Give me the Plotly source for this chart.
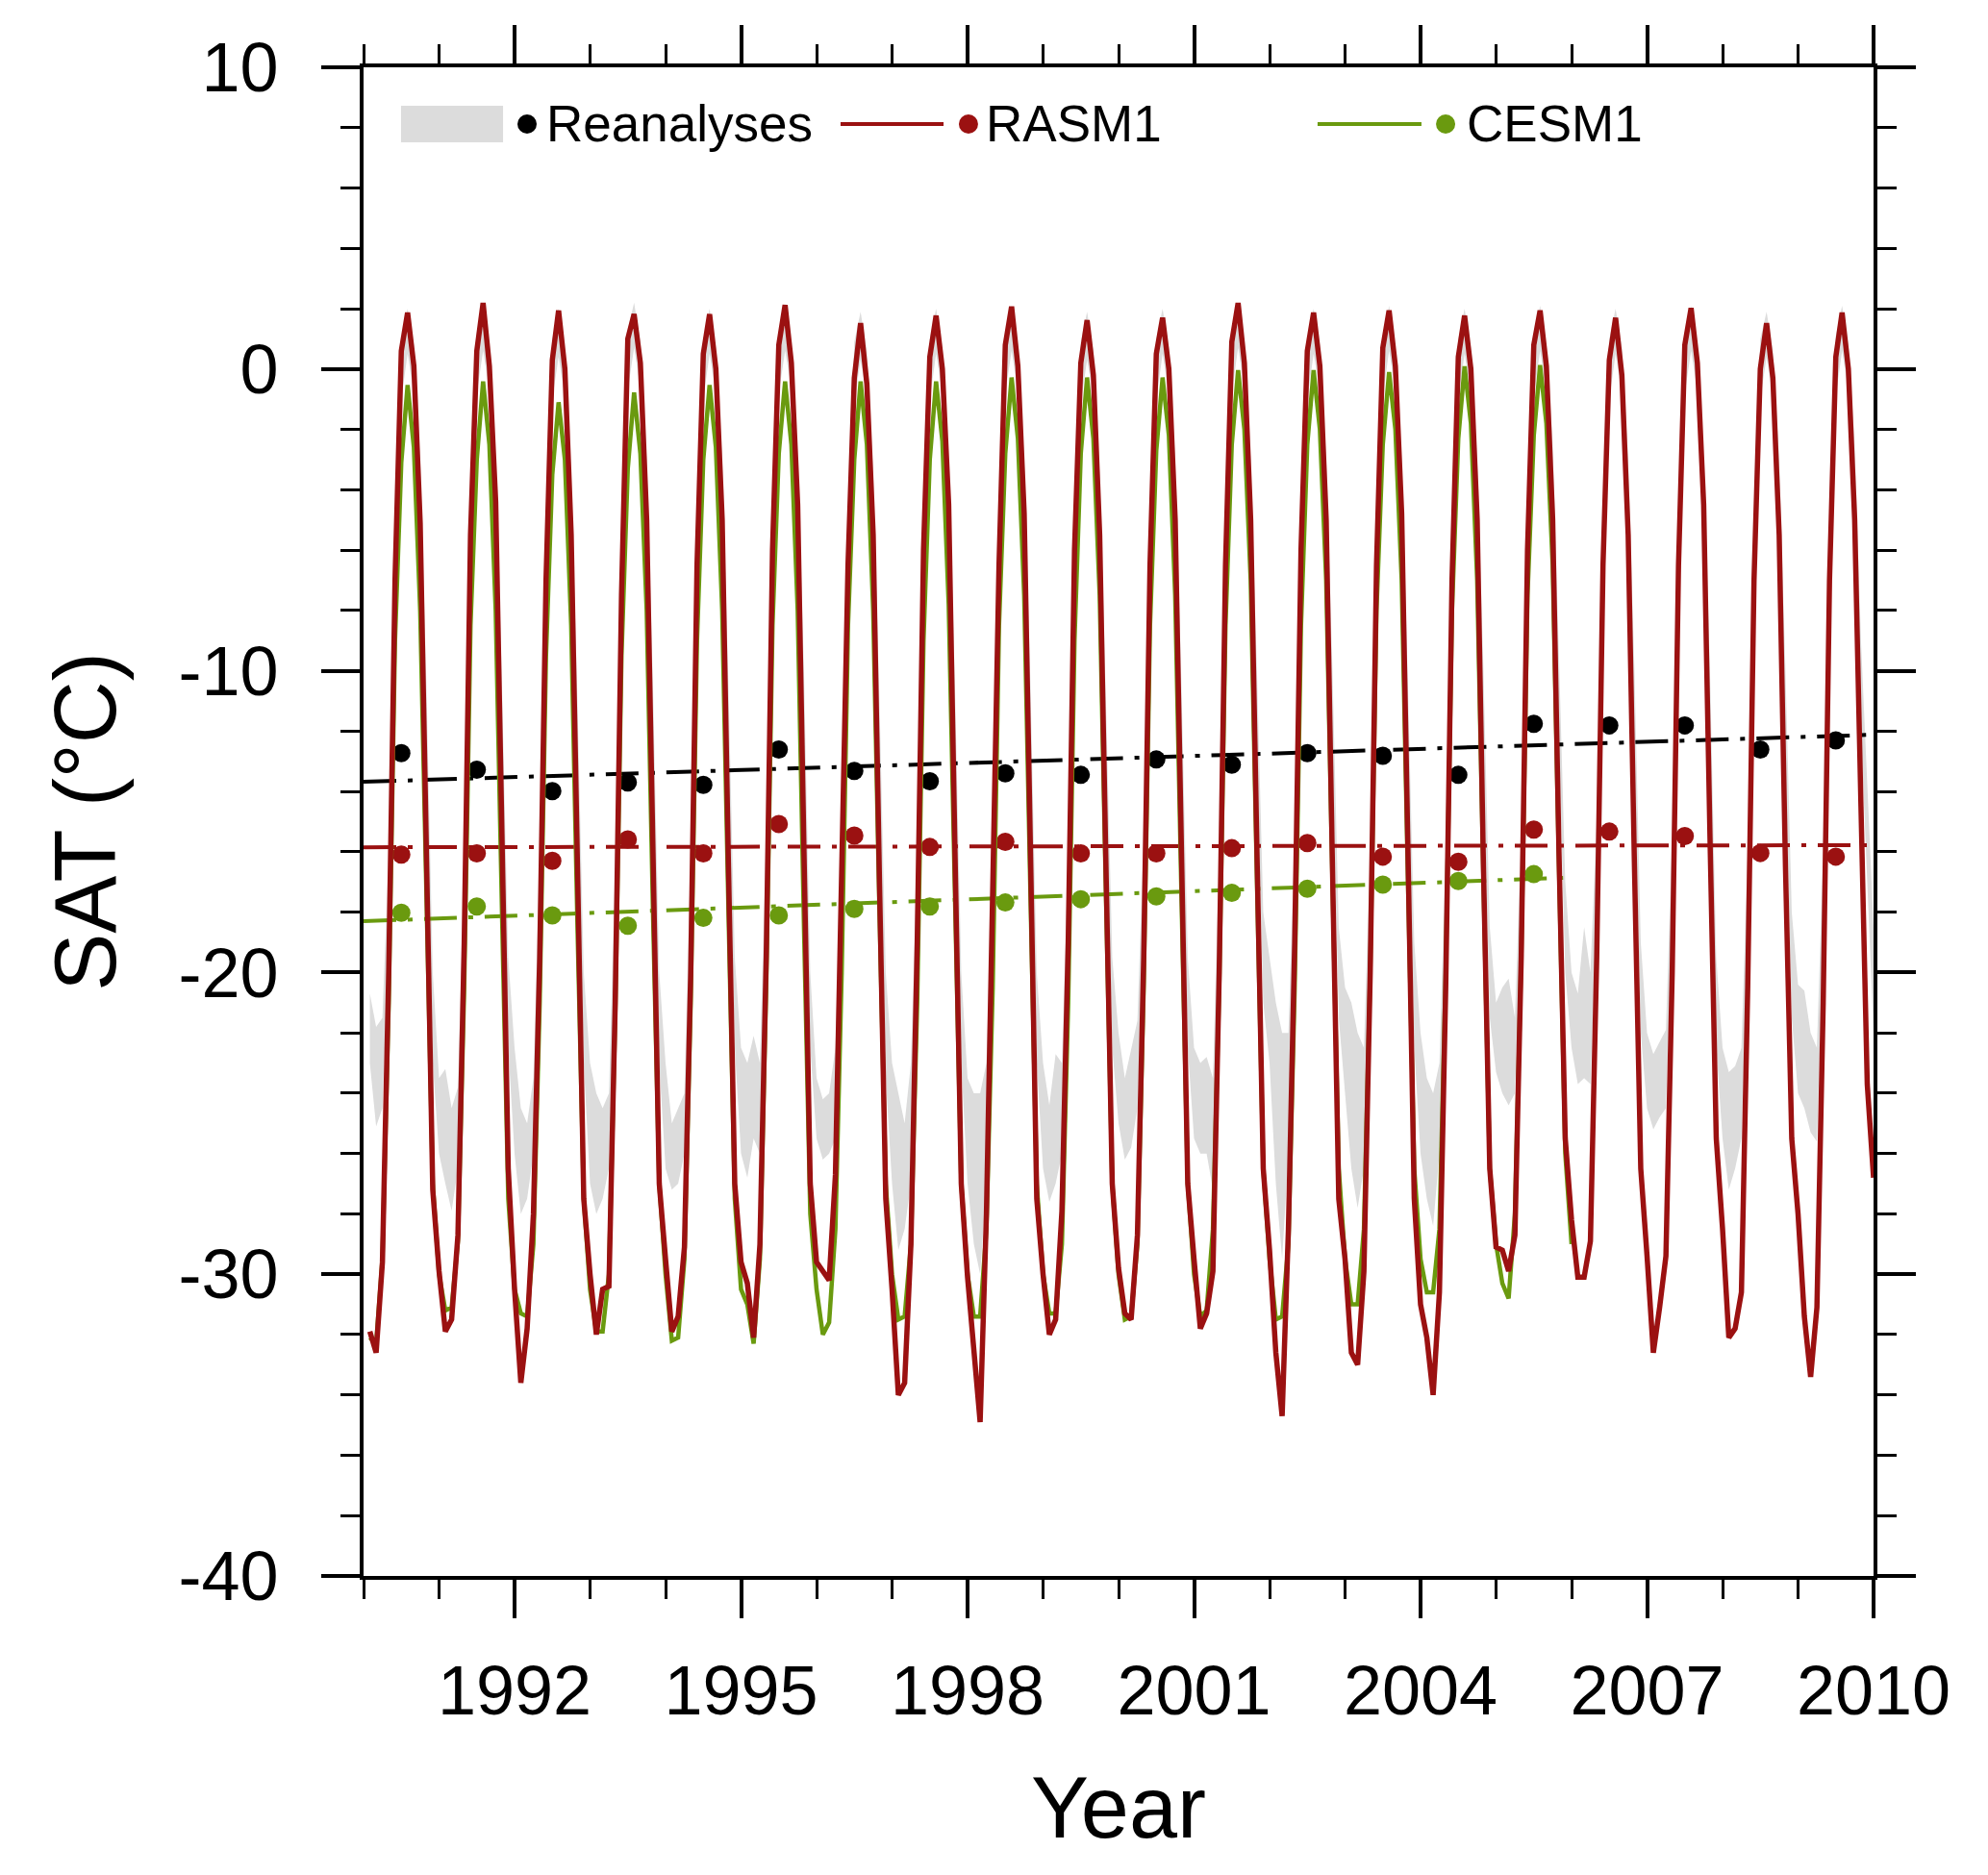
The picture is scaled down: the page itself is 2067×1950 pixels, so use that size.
import numpy as np
import plotly.graph_objects as go

# monthly SAT (deg C), one row per year, Jan..Dec
years = list(range(1990, 2010))

rasm1 = [
    [-31.9, -32.6, -29.6, -20.0, -7.0, 0.6, 1.87, 0.1, -5.1, -16.0, -27.2, -29.9],
    [-31.9, -31.5, -28.7, -19.0, -5.5, 0.6, 2.19, 0.1, -4.4, -15.5, -26.5, -30.5],
    [-33.6, -31.8, -28.0, -19.5, -7.0, 0.3, 1.94, 0.0, -5.5, -16.5, -27.5, -30.0],
    [-32.0, -30.5, -30.4, -21.0, -7.5, 1.0, 1.82, 0.2, -5.0, -16.0, -27.0, -29.5],
    [-31.9, -31.4, -29.1, -20.0, -6.5, 0.5, 1.82, 0.0, -5.0, -16.5, -27.0, -29.6],
    [-30.3, -32.1, -29.0, -19.5, -6.0, 0.8, 2.12, 0.2, -4.5, -16.0, -27.0, -29.6],
    [-29.9, -30.2, -26.7, -17.5, -6.5, -0.3, 1.52, -0.5, -5.5, -17.0, -27.5, -30.5],
    [-34.0, -33.6, -29.0, -19.0, -6.0, 0.4, 1.77, 0.0, -4.5, -16.0, -27.0, -30.1],
    [-32.5, -34.9, -28.0, -18.0, -6.5, 0.8, 2.07, 0.1, -4.8, -16.0, -27.5, -30.0],
    [-32.0, -31.5, -27.9, -19.0, -6.0, 0.2, 1.62, -0.2, -5.5, -16.5, -27.0, -29.8],
    [-31.3, -31.5, -28.7, -19.5, -6.5, 0.5, 1.70, 0.0, -5.0, -16.0, -27.0, -29.5],
    [-31.8, -31.3, -29.9, -20.0, -6.5, 0.9, 2.19, 0.2, -5.0, -16.0, -26.5, -29.2],
    [-32.6, -34.7, -28.5, -19.0, -6.0, 0.6, 1.87, 0.1, -5.0, -16.5, -27.5, -29.5],
    [-32.6, -33.0, -29.9, -20.0, -6.5, 0.7, 1.94, 0.1, -4.8, -16.0, -27.5, -31.0],
    [-32.1, -34.0, -30.6, -20.5, -7.0, 0.4, 1.77, 0.0, -5.0, -16.5, -26.5, -29.1],
    [-29.2, -29.9, -28.7, -19.5, -6.0, 0.8, 1.94, 0.1, -5.0, -16.0, -25.5, -28.2],
    [-30.1, -30.1, -28.9, -19.5, -6.5, 0.3, 1.70, -0.2, -5.5, -16.5, -26.5, -29.4],
    [-32.6, -31.1, -29.4, -20.0, -6.5, 0.8, 2.02, 0.2, -4.5, -15.5, -25.5, -28.5],
    [-32.1, -31.8, -30.6, -20.5, -7.0, 0.0, 1.52, -0.3, -5.5, -16.5, -25.5, -28.0],
    [-31.4, -33.4, -31.1, -21.0, -7.0, 0.4, 1.87, 0.0, -5.0, -14.5, -23.7, -26.8],
]

# CESM1 stops after 2005
cesm1 = [
    [-32.1, -32.3, -29.5, -21.0, -9.0, -3.1, -0.53, -2.6, -8.0, -18.0, -27.0, -30.0],
    [-31.2, -31.1, -28.9, -20.5, -8.5, -3.0, -0.41, -2.5, -8.0, -18.0, -27.5, -30.5],
    [-31.3, -31.4, -29.0, -21.0, -9.5, -3.5, -1.10, -3.0, -8.5, -18.5, -27.5, -30.5],
    [-31.9, -31.9, -30.0, -21.5, -9.5, -3.3, -0.78, -2.8, -8.0, -18.0, -27.0, -30.0],
    [-32.2, -32.1, -29.5, -21.0, -9.0, -3.0, -0.53, -2.6, -8.0, -18.0, -27.5, -30.5],
    [-31.0, -32.3, -29.5, -20.5, -8.5, -2.8, -0.41, -2.5, -8.0, -18.5, -28.0, -30.5],
    [-32.0, -31.6, -28.5, -20.0, -8.5, -3.0, -0.41, -2.5, -8.0, -18.0, -27.0, -30.0],
    [-31.5, -31.4, -29.0, -21.0, -9.0, -3.0, -0.41, -2.4, -7.8, -17.5, -27.0, -30.0],
    [-31.4, -31.4, -28.5, -20.5, -8.5, -2.8, -0.28, -2.3, -7.5, -17.5, -27.0, -30.0],
    [-31.3, -31.3, -29.0, -21.0, -9.0, -2.8, -0.28, -2.3, -7.5, -17.5, -27.0, -30.0],
    [-31.5, -31.4, -29.0, -20.5, -8.5, -2.7, -0.28, -2.2, -7.5, -17.5, -27.0, -30.0],
    [-31.4, -31.2, -28.5, -20.5, -8.5, -2.5, -0.04, -2.0, -7.0, -17.0, -26.5, -29.5],
    [-31.5, -31.4, -29.0, -20.5, -8.5, -2.5, -0.04, -2.0, -7.0, -17.0, -26.5, -29.5],
    [-31.0, -31.0, -28.5, -20.0, -8.0, -2.5, -0.10, -2.0, -7.0, -17.0, -26.5, -29.5],
    [-30.6, -30.6, -28.5, -20.0, -8.0, -2.3, 0.09, -1.8, -7.0, -17.0, -26.5, -29.0],
    [-30.3, -30.8, -28.0, -19.5, -7.5, -2.2, 0.13, -1.8, -6.5, -16.5, -26.0, -29.0],
]

# reanalyses spread: upper and lower edge of the grey band
rean_hi = [
    [-20.7, -21.8, -21.5, -16.0, -5.0, 1.0, 2.0, 0.8, -3.0, -10.5, -20.0, -23.5],
    [-23.2, -24.5, -23.8, -16.5, -5.0, 1.2, 2.1, 0.8, -3.0, -10.5, -19.5, -22.5],
    [-24.5, -25.0, -23.5, -16.0, -5.5, 1.0, 2.0, 0.6, -3.5, -11.0, -20.0, -23.0],
    [-24.0, -24.5, -24.0, -16.5, -5.0, 1.3, 2.2, 0.9, -3.0, -10.5, -20.0, -23.0],
    [-25.0, -24.5, -24.0, -16.0, -5.0, 1.0, 2.0, 0.7, -3.0, -10.5, -19.5, -22.5],
    [-23.0, -22.1, -23.0, -15.5, -4.5, 1.2, 2.1, 0.9, -3.0, -10.0, -20.0, -23.5],
    [-24.2, -24.0, -22.5, -15.5, -5.0, 0.9, 1.9, 0.6, -3.5, -11.0, -20.0, -23.0],
    [-24.0, -25.0, -23.0, -16.0, -5.0, 1.0, 2.0, 0.7, -3.0, -10.5, -20.0, -23.5],
    [-24.0, -24.0, -23.0, -16.0, -5.0, 1.2, 2.1, 0.8, -3.0, -10.5, -20.0, -23.0],
    [-24.4, -22.7, -23.0, -16.0, -5.0, 0.9, 1.9, 0.6, -3.5, -11.0, -19.5, -22.0],
    [-23.5, -22.5, -21.6, -15.5, -4.5, 1.0, 2.0, 0.7, -3.0, -10.5, -19.5, -22.5],
    [-23.0, -22.8, -23.5, -16.0, -5.0, 1.2, 2.2, 0.9, -3.0, -10.0, -18.0, -19.5],
    [-21.0, -22.0, -22.0, -15.5, -4.5, 1.0, 2.0, 0.8, -3.0, -10.0, -18.5, -20.5],
    [-21.0, -22.0, -22.5, -16.0, -5.0, 1.1, 2.1, 0.8, -3.0, -10.5, -19.0, -22.0],
    [-23.5, -24.0, -23.0, -16.0, -5.0, 1.0, 2.0, 0.7, -3.0, -10.0, -18.5, -21.0],
    [-20.5, -20.2, -21.5, -15.5, -4.5, 1.1, 2.1, 0.8, -2.5, -9.5, -17.0, -20.0],
    [-20.7, -18.5, -20.0, -15.0, -4.5, 1.0, 2.0, 0.7, -3.0, -10.0, -19.0, -22.0],
    [-22.7, -22.3, -21.9, -15.5, -4.5, 1.2, 2.1, 0.8, -3.0, -10.0, -19.5, -22.5],
    [-23.3, -23.1, -22.5, -16.0, -5.0, 1.0, 1.9, 0.6, -3.0, -10.0, -18.0, -20.4],
    [-20.6, -22.0, -22.5, -16.0, -5.0, 1.1, 2.1, 0.8, -2.5, -9.0, -13.5, -18.5],
]
rean_lo = [
    [-23.0, -25.1, -24.5, -19.0, -8.0, -1.0, 0.5, -0.8, -5.5, -13.5, -23.0, -26.0],
    [-27.0, -27.9, -26.5, -19.5, -8.0, -0.8, 0.6, -0.7, -5.5, -13.5, -22.5, -26.0],
    [-28.0, -27.5, -26.0, -19.0, -8.5, -1.0, 0.4, -0.9, -6.0, -14.0, -23.0, -27.0],
    [-28.0, -27.5, -26.5, -19.5, -8.0, -0.7, 0.7, -0.6, -5.5, -13.5, -23.0, -26.5],
    [-27.2, -27.0, -26.0, -19.0, -8.0, -1.0, 0.5, -0.8, -5.5, -13.5, -22.5, -26.0],
    [-26.8, -25.5, -26.0, -18.5, -7.5, -0.8, 0.6, -0.6, -5.5, -13.0, -22.5, -25.5],
    [-26.2, -26.0, -25.5, -18.5, -8.0, -1.1, 0.3, -0.9, -6.0, -14.0, -23.5, -27.0],
    [-29.2, -28.5, -27.0, -19.0, -8.0, -1.0, 0.5, -0.8, -5.5, -13.5, -23.0, -27.0],
    [-29.0, -30.0, -27.0, -19.0, -8.0, -0.8, 0.6, -0.7, -5.5, -13.5, -23.0, -26.5],
    [-27.6, -27.0, -26.0, -19.0, -8.0, -1.1, 0.3, -0.9, -6.0, -14.0, -22.5, -25.0],
    [-26.2, -25.8, -24.5, -18.5, -7.5, -1.0, 0.5, -0.8, -5.5, -13.5, -22.5, -25.5],
    [-26.0, -26.0, -27.2, -19.0, -8.0, -0.8, 0.7, -0.6, -5.5, -13.0, -21.0, -23.0],
    [-27.0, -29.5, -26.0, -18.5, -7.5, -1.0, 0.5, -0.7, -5.5, -13.0, -21.5, -24.0],
    [-26.5, -27.8, -26.5, -19.0, -8.0, -0.9, 0.6, -0.7, -5.5, -13.5, -22.5, -26.0],
    [-27.5, -28.4, -26.0, -19.0, -8.0, -1.0, 0.5, -0.8, -5.5, -13.0, -21.5, -23.3],
    [-24.0, -24.4, -24.0, -18.5, -7.5, -0.9, 0.6, -0.7, -5.0, -12.5, -20.0, -22.5],
    [-23.7, -23.5, -23.7, -18.0, -7.5, -1.0, 0.5, -0.8, -5.5, -13.0, -22.0, -24.5],
    [-25.2, -24.8, -24.5, -18.5, -7.5, -0.8, 0.6, -0.7, -5.5, -13.0, -22.5, -25.5],
    [-27.2, -26.5, -25.5, -19.0, -8.0, -1.0, 0.4, -0.9, -5.5, -13.0, -21.5, -24.0],
    [-24.5, -25.3, -25.6, -19.0, -8.0, -0.9, 0.6, -0.7, -5.0, -12.0, -17.0, -22.0],
]

# annual means (dots)
rean_annual = [-12.73, -13.28, -13.99, -13.70, -13.78, -12.61, -13.32, -13.66, -13.40, -13.45,
               -12.94, -13.11, -12.73, -12.82, -13.45, -11.76, -11.81, -11.81, -12.61, -12.31]
rasm1_annual = [-16.09, -16.05, -16.30, -15.59, -16.05, -15.08, -15.46, -15.84, -15.67, -16.05,
                -16.05, -15.88, -15.71, -16.16, -16.33, -15.26, -15.33, -15.48, -16.04, -16.16]
cesm1_annual = [-18.02, -17.81, -18.11, -18.45, -18.19, -18.11, -17.89, -17.81, -17.68, -17.57,
                -17.48, -17.36, -17.22, -17.09, -16.97, -16.74]

# linear trends: (start year, start value, end year, end value)
rean_trend = [1990.0, -13.68, 2010.0, -12.12]
rasm1_trend = [1990.0, -15.85, 2010.0, -15.78]
cesm1_trend = [1990.0, -18.30, 2005.9, -16.86]

y_ticks = [-40, -30, -20, -10, 0, 10]
x_ticks = [1992, 1995, 1998, 2001, 2004, 2007, 2010]

RED = "#9b1111"
GREEN = "#6a9a0f"
GREY = "#dcdcdc"
FONT = "Liberation Sans"


def month_axis(n_years):
    # time coordinate: year + month/12
    return [1990 + i + (m + 1) / 12.0 for i in range(n_years) for m in range(12)]


t_rasm = month_axis(len(rasm1))
t_cesm = month_axis(len(cesm1))
rasm_flat = np.array(rasm1).ravel()
cesm_flat = np.array(cesm1).ravel()
hi_flat = np.array(rean_hi).ravel()
lo_flat = np.array(rean_lo).ravel()

fig = go.Figure()

# reanalyses spread band
fig.add_trace(go.Scatter(x=t_rasm, y=lo_flat, mode="lines", line=dict(width=0, color=GREY),
                         showlegend=False, hoverinfo="skip"))
fig.add_trace(go.Scatter(x=t_rasm, y=hi_flat, mode="lines", line=dict(width=0, color=GREY),
                         fill="tonexty", fillcolor=GREY, showlegend=False))

# trend lines
dash = "34px,12px,5px,12px"
for tr, col in [(rean_trend, "black"), (rasm1_trend, RED), (cesm1_trend, GREEN)]:
    fig.add_trace(go.Scatter(x=[tr[0], tr[2]], y=[tr[1], tr[3]], mode="lines",
                             line=dict(color=col, width=4, dash=dash), showlegend=False))

# annual means
x_ann = [y + 0.5 for y in years]
fig.add_trace(go.Scatter(x=x_ann, y=rean_annual, mode="markers",
                         marker=dict(color="black", size=19), showlegend=False))
fig.add_trace(go.Scatter(x=x_ann, y=rasm1_annual, mode="markers",
                         marker=dict(color=RED, size=19), showlegend=False))
fig.add_trace(go.Scatter(x=x_ann[:len(cesm1_annual)], y=cesm1_annual, mode="markers",
                         marker=dict(color=GREEN, size=19), showlegend=False))

# monthly model series
fig.add_trace(go.Scatter(x=t_cesm, y=cesm_flat, mode="lines",
                         line=dict(color=GREEN, width=4.5), showlegend=False))
fig.add_trace(go.Scatter(x=t_rasm, y=rasm_flat, mode="lines",
                         line=dict(color=RED, width=5.5), showlegend=False))

# hand-made legend along the top of the panel
leg_y = 0.9624
shapes = [
    dict(type="rect", xref="paper", yref="paper", x0=0.0248, x1=0.0924, y0=0.9503, y1=0.9745,
         fillcolor=GREY, line=dict(width=0)),
    dict(type="line", xref="paper", yref="paper", x0=0.3159, x1=0.3841, y0=leg_y, y1=leg_y,
         line=dict(color=RED, width=4)),
    dict(type="line", xref="paper", yref="paper", x0=0.6318, x1=0.7006, y0=leg_y, y1=leg_y,
         line=dict(color=GREEN, width=4)),
]
for xc, col in [(0.1083, "black"), (0.4006, RED), (0.7166, GREEN)]:
    shapes.append(dict(type="circle", xref="paper", yref="paper", xsizemode="pixel",
                       ysizemode="pixel", xanchor=xc, yanchor=leg_y, x0=-10, x1=10, y0=-10, y1=10,
                       fillcolor=col, line=dict(width=0)))

annotations = []
for xl, txt in [(0.1200, "Reanalyses"), (0.4110, "RASM1"), (0.7290, "CESM1")]:
    annotations.append(dict(x=xl, y=leg_y, xref="paper", yref="paper", text=txt,
                            showarrow=False, xanchor="left", yanchor="middle",
                            font=dict(family=FONT, size=53, color="black")))

axis_common = dict(
    showline=True, linecolor="black", linewidth=4, mirror="ticks",
    ticks="outside", ticklen=40, tickwidth=4, tickcolor="black",
    showgrid=False, zeroline=False,
    tickfont=dict(family=FONT, size=72, color="black"),
)

fig.update_layout(
    width=2067, height=1950,
    margin=dict(l=370, r=127, t=62, b=319),
    paper_bgcolor="white", plot_bgcolor="white",
    showlegend=False,
    shapes=shapes, annotations=annotations,
    xaxis=dict(
        axis_common, range=[1990, 2010], tickmode="array",
        tickvals=x_ticks, ticktext=[str(v) for v in x_ticks],
        ticklabelstandoff=14,
        minor=dict(tickmode="linear", tick0=1990, dtick=1, ticks="outside", ticklen=20,
                   tickwidth=2.5, tickcolor="black"),
        title=dict(text="Year", font=dict(family=FONT, size=90, color="black"), standoff=52),
    ),
    yaxis=dict(
        axis_common, range=[-40, 10], tickmode="array",
        tickvals=y_ticks, ticktext=[str(v) for v in y_ticks],
        ticklabelstandoff=30,
        minor=dict(tickmode="linear", tick0=-40, dtick=2, ticks="outside", ticklen=20,
                   tickwidth=2.5, tickcolor="black"),
        title=dict(text="SAT (°C)", font=dict(family=FONT, size=90, color="black"), standoff=36),
    ),
)

fig.write_html("out.html")
